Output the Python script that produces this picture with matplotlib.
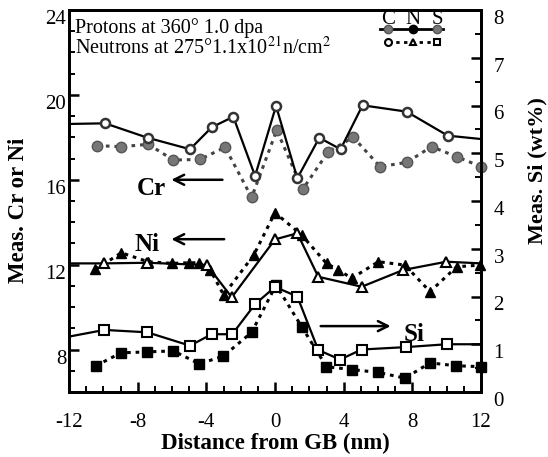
import numpy as np
import matplotlib.pyplot as plt
from matplotlib.ticker import MultipleLocator
from matplotlib.transforms import ScaledTranslation

plt.rcParams['font.family'] = ['Liberation Serif', 'DejaVu Serif']
plt.rcParams['mathtext.fontset'] = 'stix'
plt.rcParams['axes.unicode_minus'] = False

# Cr (left axis) - protons (solid, open circles) and neutrons (dotted, filled)
cr_p_x = [-12.0, -9.9, -7.42, -4.95, -3.69, -2.43, -1.16, 0.06, 1.30, 2.58, 3.82, 5.1, 7.67, 10.06, 12.0]
cr_p_y = [18.63, 18.66, 17.98, 17.44, 18.47, 18.97, 16.18, 19.48, 16.07, 17.98, 17.44, 19.51, 19.21, 18.08, 17.92]
cr_n_x = [-10.35, -8.97, -7.38, -5.92, -4.37, -2.91, -1.36, 0.1, 1.61, 3.1, 4.56, 6.12, 7.67, 9.12, 10.58, 12.0]
cr_n_y = [17.61, 17.56, 17.67, 16.93, 16.96, 17.53, 15.17, 18.34, 15.55, 17.32, 18.0, 16.62, 16.82, 17.56, 17.09, 16.62]

# Ni (left axis)
ni_p_x = [-12.0, -9.94, -7.44, -3.96, -2.52, 0.0, 1.30, 2.52, 5.05, 7.47, 9.99, 12.0]
ni_p_y = [12.06, 12.06, 12.09, 11.98, 10.46, 13.19, 13.48, 11.43, 10.96, 11.75, 12.14, 12.06]
ni_n_x = [-10.46, -8.95, -7.4, -6.0, -5.03, -4.44, -3.77, -2.99, -1.24, 0.0, 1.55, 3.0, 3.69, 4.47, 6.02, 7.57, 9.03, 10.58, 11.94]
ni_n_y = [11.78, 12.56, 12.14, 12.06, 12.09, 12.09, 11.75, 10.57, 12.45, 14.45, 13.4, 12.06, 11.75, 11.36, 12.14, 11.98, 10.73, 11.9, 11.98]

# Si (right axis, wt%)
si_p_x = [-12.0, -9.94, -7.44, -4.95, -3.69, -2.49, -1.16, 0.0, 1.30, 2.52, 3.79, 5.05, 7.63, 10.0, 12.0]
si_p_y = [1.16, 1.30, 1.25, 0.97, 1.21, 1.21, 1.84, 2.2, 2.0, 0.88, 0.68, 0.89, 0.94, 1.0, 1.0]
si_n_x = [-10.43, -8.97, -7.44, -5.92, -4.41, -3.01, -1.36, 0.06, 1.55, 3.0, 4.47, 6.02, 7.57, 9.03, 10.54, 12.0]
si_n_y = [0.55, 0.82, 0.84, 0.86, 0.59, 0.75, 1.25, 2.24, 1.37, 0.53, 0.47, 0.41, 0.29, 0.61, 0.55, 0.53]

fig = plt.figure(figsize=(5.48, 4.57), dpi=100)
ax = fig.add_axes([69/548, 1-392/457, 412/548, 382/457])
ax2 = ax.twinx()

lw = 1.6
ms = 6.5
dots = (0, (1.2, 1.6))

# solid (protons), open markers, no marker at axis ends
ax.plot(cr_p_x, cr_p_y, '-', color='black', lw=lw, marker='o', ms=ms, mfc='white',
        mec='#333333', mew=1.8, markevery=list(range(1, len(cr_p_x)-1)), zorder=4)
ax.plot(ni_p_x, ni_p_y, '-', color='black', lw=lw, marker='^', ms=ms, mfc='white',
        mec='black', mew=1.5, markevery=list(range(1, len(ni_p_x)-1)), zorder=4)
ax2.plot(si_p_x, si_p_y, '-', color='black', lw=lw, marker='s', ms=ms, mfc='white',
         mec='black', mew=1.5, markevery=list(range(1, len(si_p_x)-1)), zorder=4)

# dotted (neutrons), filled markers
ax.plot(cr_n_x, cr_n_y, linestyle=dots, color='#444444', lw=2.2, marker='o', ms=ms+1, mfc='#777777',
        mec='#555555', clip_on=False, zorder=3)
ax.plot(ni_n_x, ni_n_y, linestyle=dots, color='black', lw=2.2, marker='^', ms=ms+1, mfc='black',
        mec='black', clip_on=False, zorder=3)
ax2.plot(si_n_x, si_n_y, linestyle=dots, color='black', lw=2.2, marker='s', ms=ms, mfc='black',
         mec='black', clip_on=False, zorder=3)

ax.set_xlim(-12, 12)
ax.set_ylim(6, 24)
ax2.set_ylim(0, 8)

ax.xaxis.set_major_locator(MultipleLocator(4))
ax.xaxis.set_minor_locator(MultipleLocator(1))
ax.yaxis.set_major_locator(MultipleLocator(4))
ax.yaxis.set_minor_locator(MultipleLocator(1))
ax2.yaxis.set_major_locator(MultipleLocator(1))
ax2.yaxis.set_minor_locator(MultipleLocator(0.5))

ax.tick_params(axis='x', which='major', direction='in', length=7, width=1.8, labelsize=15, pad=15)
ax.tick_params(axis='y', which='major', direction='in', length=7, width=1.8, labelsize=15, pad=2)
ax.tick_params(axis='both', which='minor', direction='in', length=4, width=1.4)
ax2.tick_params(axis='y', which='major', direction='in', length=7, width=1.8, labelsize=15, pad=9)
ax2.tick_params(axis='y', which='minor', direction='in', length=4, width=1.4)
for a in (ax, ax2):
    for s in a.spines.values():
        s.set_linewidth(2)

# y tick labels sit a little below their ticks in the original
shift = ScaledTranslation(0, -5/72, fig.dpi_scale_trans)
for lab in ax.get_yticklabels() + ax2.get_yticklabels():
    lab.set_transform(lab.get_transform() + shift)

ax.set_xlabel('Distance from GB (nm)', fontsize=16.5, fontweight='bold')
ax.xaxis.set_label_coords(0.5, -0.108)
ax.set_ylabel('Meas. Cr or Ni', fontsize=16.5, fontweight='bold')
ax.yaxis.set_label_coords(-0.097, 0.476)
ax2.set_ylabel('Meas. Si (wt%)', fontsize=16, fontweight='bold')
ax2.yaxis.set_label_coords(1.112, 0.58)

# annotations
ax.annotate('', xy=(-6.2, 16.0), xytext=(-2.9, 16.0),
            arrowprops=dict(arrowstyle='->', lw=1.8, color='black', mutation_scale=18))
ax.text(-7.2, 15.6, 'Cr', fontsize=18, fontweight='bold', ha='center', va='center')
ax.annotate('', xy=(-6.2, 13.2), xytext=(-2.8, 13.2),
            arrowprops=dict(arrowstyle='->', lw=1.8, color='black', mutation_scale=18))
ax.text(-7.45, 12.93, 'Ni', fontsize=18, fontweight='bold', ha='center', va='center')
ax2.annotate('', xy=(6.9, 1.38), xytext=(2.5, 1.38),
             arrowprops=dict(arrowstyle='->', lw=1.8, color='black', mutation_scale=18))
ax2.text(8.1, 1.21, 'Si', fontsize=18, fontweight='bold', ha='center', va='center')

ax.text(0.015, 0.952, 'Protons at 360° 1.0 dpa', transform=ax.transAxes, fontsize=14.5, va='center')
ax.text(0.015, 0.902, r'Neutrons at 275°1.1x10$^{21}$n/cm$^{2}$', transform=ax.transAxes,
        fontsize=14.5, va='center')

# legend key drawn by hand
lx = [(388-69)/412, (413-69)/412, (437-69)/412]
ytop = 1-(29-10)/382
ybot = 1-(42-10)/382
ax.plot([(380-69)/412, (443-69)/412], [ytop]*2, '-', color='black', lw=2, transform=ax.transAxes)
ax.plot(lx[0], ytop, 'o', ms=6, mfc='#777777', mec='#555555', transform=ax.transAxes)
ax.plot(lx[1], ytop, 'o', ms=6, mfc='black', mec='black', transform=ax.transAxes)
ax.plot(lx[2], ytop, 'o', ms=6, mfc='#777777', mec='#555555', transform=ax.transAxes)
ax.plot([lx[0], lx[2]], [ybot]*2, linestyle=dots, color='black', lw=2, transform=ax.transAxes)
for xx, m in zip(lx, ['o', '^', 's']):
    ax.plot(xx, ybot, m, ms=5, mfc='white', mec='black', mew=1.5, transform=ax.transAxes)
for xx, t in zip(lx, ['C', 'N', 'S']):
    ax.text(xx, 1-(19-10)/382, t, transform=ax.transAxes, fontsize=15, ha='center', va='center')

fig.savefig('out.png', dpi=100)
